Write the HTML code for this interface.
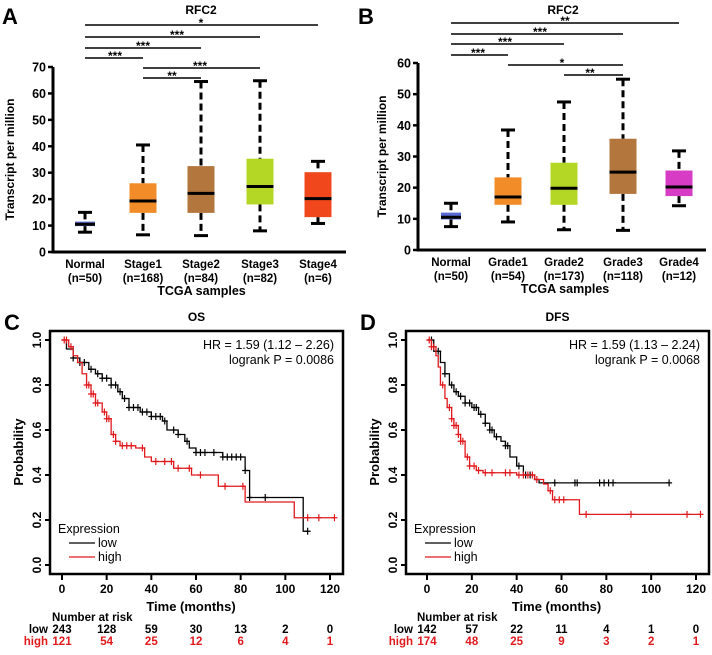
<!DOCTYPE html>
<html><head><meta charset="utf-8"><style>
body{margin:0;background:#fff;width:712px;height:650px;overflow:hidden}
svg{font-family:"Liberation Sans",Arial,sans-serif}
.b{font-weight:bold}
</style></head><body>
<svg id="s" width="712" height="650" viewBox="0 0 712 650" xmlns="http://www.w3.org/2000/svg">
<text x="2" y="24" font-size="22" class="b">A</text>
<text x="358" y="24" font-size="22" class="b">B</text>
<text x="4" y="330" font-size="22" class="b">C</text>
<text x="360" y="330" font-size="22" class="b">D</text>
</svg>
<script>
// ---- Box plot data ----
const catsA = ["Stage1","Stage2","Stage3","Stage4"];
const nA = ["(n=50)","(n=168)","(n=84)","(n=82)","(n=6)"];
const boxMinA = [7.5,6.5,6.2,8,10.8];
const boxQ1A = [9.8,14.8,14.8,18,13.2];
const boxMedA = [10.5,19.3,22.2,24.8,20.2];
const boxQ3A = [11.5,26,32.5,35.3,30.2];
const boxMaxA = [15,40.5,64.5,64.8,34.3];
const ticksA = [0,10,20,30,40,50,60,70];
const sigA = [[0,4,"*"],[0,3,"***"],[0,2,"***"],[0,1,"***"],[1,3,"***"],[1,2,"**"]];

const catsB = ["Grade1","Grade2","Grade3","Grade4"];
const nB = ["(n=50)","(n=54)","(n=173)","(n=118)","(n=12)"];
const boxMinB = [7.5,9,6.5,6.3,14.2];
const boxQ1B = [9.8,14.5,14.5,18,17.3];
const boxMedB = [10.5,17,19.8,25,20.2];
const boxQ3B = [12,23.3,28,35.7,25.5];
const boxMaxB = [15,38.5,47.5,54.8,31.8];
const ticksB = [0,10,20,30,40,50,60];
const sigB = [[0,4,"**"],[0,3,"***"],[0,2,"***"],[0,1,"***"],[1,3,"*"],[2,3,"**"]];

// ---- KM data ----
const osLowT = [0,2,5,8,12,15,18,22,25,27,30,35,40,45,47,52,55,57,60,72,82,84,108];
const osLowS = [1,0.96,0.92,0.9,0.87,0.85,0.83,0.8,0.77,0.74,0.7,0.68,0.66,0.64,0.6,0.58,0.55,0.52,0.5,0.48,0.42,0.3,0.15];
const osLowEnd = 110;
const osLowCens = [5,8,10,13,16,18,20,22,24,26,28,30,32,34,36,38,40,42,44,46,50,52,56,60,62,64,68,72,74,76,78,80,82,84,91,110];
const osHighT = [0,3,5,7,9,11,13,15,18,20,22,24,26,33,37,40,50,58,70,82,104];
const osHighS = [1,0.97,0.93,0.9,0.85,0.8,0.76,0.72,0.68,0.65,0.58,0.55,0.53,0.52,0.48,0.46,0.43,0.4,0.35,0.28,0.21];
const osHighEnd = 122;
const osHighCens = [1,2,4,11,12,13,14,15,16,19,20,21,23,24,27,29,31,36,42,46,49,52,57,62,73,81,110,115,122];

const dfsLowT = [0,3,6,8,10,12,14,17,20,23,26,28,30,33,35,37,40,43,48,50];
const dfsLowS = [1,0.95,0.9,0.85,0.8,0.77,0.75,0.72,0.7,0.67,0.63,0.6,0.57,0.55,0.53,0.48,0.44,0.4,0.38,0.365];
const dfsLowEnd = 108;
const dfsLowCens = [2,5,8,11,13,15,17,19,21,22,24,26,28,29,31,35,36,41,44,46,57,66,67,77,79,81,83,108];
const dfsHighT = [0,2,4,5,6,8,9,11,12,14,15,17,19,22,25,40,48,52,54,56,68];
const dfsHighS = [1,0.97,0.93,0.88,0.8,0.74,0.7,0.65,0.62,0.58,0.55,0.48,0.44,0.42,0.41,0.4,0.38,0.36,0.33,0.29,0.225];
const dfsHighEnd = 122;
const dfsHighCens = [1,2,3,7,10,11,12,13,14,15,16,18,19,21,23,26,29,35,37,41,43,45,47,49,55,57,59,61,71,91,116,122];

const riskTimes = [0,20,40,60,80,100,120];
const osRiskLow = [243,128,59,30,13,2,0];
const osRiskHigh = [121,54,25,12,6,4,1];
const dfsRiskLow = [142,57,22,11,4,1,0];
const dfsRiskHigh = [174,48,25,9,3,2,1];

const svg = document.getElementById('s');
const NS = "http://www.w3.org/2000/svg";
function mk(tag, attrs, txt){const e=document.createElementNS(NS,tag);for(const k in attrs)e.setAttribute(k,attrs[k]);if(txt!==undefined)e.textContent=txt;svg.appendChild(e);return e;}

function boxPanel(o){
  const y = v => o.y0 - (v/o.ymax)*(o.y0-o.y1);
  const x = i => o.xs[i];
  let e;
  e=mk('text',{x:o.tx,y:14,'font-size':12,'font-weight':'bold','text-anchor':'middle'},'RFC2');
  
  
  e=mk('line',{x1:o.ax,y1:o.y1,x2:o.ax,y2:o.y0+1.5,stroke:'#000','stroke-width':3});
  
  
  e=mk('line',{x1:o.ax-1.5,y1:o.y0,x2:o.axr,y2:o.y0,stroke:'#000','stroke-width':3});
  
  
  o.ticks.forEach(t=>{
    e=mk('line',{x1:o.ax-5,y1:y(t),x2:o.ax,y2:y(t),stroke:'#000','stroke-width':2.5});
    
    
    e=mk('text',{x:o.ax-7,y:y(t)+4.5,'font-size':12.5,'font-weight':'bold','text-anchor':'end'},String(t));
    
    
  });
  e=mk('text',{x:0,y:0,'font-size':12,'font-weight':'bold','text-anchor':'middle',transform:`translate(${o.ylx},${(o.y0+o.y1)/2}) rotate(-90)`},'Transcript per million');
  
  
  const labels=['Normal'].concat(o.cats);
  labels.forEach((c,i)=>{
    e=mk('text',{x:x(i),y:o.y0+16,'font-size':11.5,'font-weight':'bold','text-anchor':'middle'},c);
    
    
    e=mk('text',{x:x(i),y:o.y0+30,'font-size':11.5,'font-weight':'bold','text-anchor':'middle'},o.n[i]);
    
    
  });
  e=mk('text',{x:(x(0)+x(4))/2,y:o.y0+43,'font-size':12.5,'font-weight':'bold','text-anchor':'middle'},'TCGA samples');
  
  
  for(let i=0;i<5;i++){
    const w = i===0?20:27, cx=x(i);
    e=mk('line',{x1:cx,y1:y(o.max[i]),x2:cx,y2:y(o.q3[i]),stroke:'#000','stroke-width':3,'stroke-dasharray':'7,4'});
    
    
    e=mk('line',{x1:cx,y1:y(o.q1[i]),x2:cx,y2:y(o.min[i]),stroke:'#000','stroke-width':3,'stroke-dasharray':'7,4'});
    
    
    [o.max[i],o.min[i]].forEach(v=>{
      e=mk('line',{x1:cx-7,y1:y(v),x2:cx+7,y2:y(v),stroke:'#000','stroke-width':3});
      
      
    });
    e=mk('rect',{x:cx-w/2,y:y(o.q3[i]),width:w,height:y(o.q1[i])-y(o.q3[i]),fill:o.colors[i]});
    
    
    e=mk('line',{x1:cx-w/2,y1:y(o.med[i]),x2:cx+w/2,y2:y(o.med[i]),stroke:'#000','stroke-width':3});
    
    
  }
  o.sig.forEach((s,k)=>{
    const ly=o.sigY[k];
    e=mk('line',{x1:x(s[0]),y1:ly,x2:x(s[1]),y2:ly,stroke:'#000','stroke-width':1.6});
    
    
    e=mk('text',{x:o.starX[k],y:ly+2,'font-size':12,'font-weight':'bold','text-anchor':'middle'},s[2]);
    
    
  });
}

boxPanel({y0:252,y1:67,ymax:70,ax:53,axr:346,xs:[85,143,201,260,318],tx:201,ylx:14,ticks:ticksA,cats:catsA,n:nA,
  min:boxMinA,q1:boxQ1A,med:boxMedA,q3:boxQ3A,max:boxMaxA,sig:sigA,
  sigY:[25,37,48,58,68,78],starX:[201,177,143,115,200,172],
  colors:['#5a6bd6','#f28c28','#b3763c','#b4d624','#f0481c']});
boxPanel({y0:250,y1:63,ymax:60,ax:418,axr:706,xs:[451,508,564,623,679],tx:563,ylx:386,ticks:ticksB,cats:catsB,n:nB,
  min:boxMinB,q1:boxQ1B,med:boxMedB,q3:boxQ3B,max:boxMaxB,sig:sigB,
  sigY:[23,34,44,55,65,75],starX:[565,540,505,478,562,590],
  colors:['#5a6bd6','#f28c28','#b4d624','#b3763c','#d63cc4']});

function kmPanel(o){
  const X = t => o.x0 + t*(o.x120-o.x0)/120;
  const Y = p => 565 - p*225;
  let e;
  e=mk('text',{x:(o.fl+o.fr)/2,y:321,'font-size':12,'font-weight':'bold','text-anchor':'middle'},o.title);
  
  
  e=mk('rect',{x:o.fl,y:331,width:o.fr-o.fl,height:243,fill:'none',stroke:'#000','stroke-width':2.5});
  
  
  [0,0.2,0.4,0.6,0.8,1].forEach(p=>{
    e=mk('line',{x1:o.fl-5,y1:Y(p),x2:o.fl,y2:Y(p),stroke:'#000','stroke-width':2});
    
    
    e=mk('text',{x:0,y:0,'font-size':12,'font-weight':'bold','text-anchor':'middle',transform:`translate(${o.fl-9},${Y(p)}) rotate(-90)`},p.toFixed(1));
    
    
  });
  e=mk('text',{x:0,y:0,'font-size':13,'font-weight':'bold','text-anchor':'middle',transform:`translate(${o.fl-27},452) rotate(-90)`},'Probability');
  
  
  riskTimes.forEach(t=>{
    e=mk('line',{x1:X(t),y1:574,x2:X(t),y2:580,stroke:'#000','stroke-width':2});
    
    
    e=mk('text',{x:X(t),y:593,'font-size':12,'font-weight':'bold','text-anchor':'middle'},String(t));
    
    
  });
  e=mk('text',{x:X(60)-5,y:611,'font-size':13,'font-weight':'bold','text-anchor':'middle'},'Time (months)');
  
  
  const curve=(T,S,end,cens,col,name)=>{
    let d=`M${X(T[0])},${Y(S[0])}`;
    for(let i=1;i<T.length;i++){d+=`H${X(T[i])}V${Y(S[i])}`;}
    d+=`H${X(end)}`;
    e=mk('path',{d:d,fill:'none',stroke:col,'stroke-width':1.3});
    
    
    cens.forEach(c=>{
      let s=S[0];for(let i=0;i<T.length;i++){if(T[i]<=c)s=S[i];}
      e=mk('path',{d:`M${X(c)-3},${Y(s)}h6M${X(c)},${Y(s)-3.5}v7`,stroke:col,'stroke-width':1.2});
      
      
    });
  };
  curve(o.lowT,o.lowS,o.lowEnd,o.lowC,'#000','survival-curve-low');
  curve(o.highT,o.highS,o.highEnd,o.highC,'#e0191d','survival-curve-high');
  e=mk('text',{x:o.fr-9,y:349,'font-size':12.5,'text-anchor':'end'},o.hr);
  
  
  e=mk('text',{x:o.fr-9,y:364,'font-size':12.5,'text-anchor':'end'},o.p);
  
  
  e=mk('text',{x:o.fl+8,y:533,'font-size':12.5},'Expression');
  
  
  [['low','#000',547],['high','#e0191d',561]].forEach(l=>{
    e=mk('line',{x1:o.fl+19,y1:l[2]-4,x2:o.fl+45,y2:l[2]-4,stroke:l[1],'stroke-width':1.3});
    
    
    e=mk('text',{x:o.fl+48,y:l[2],'font-size':12.5},l[0]);
    
    
  });
  e=mk('text',{x:X(0)-10,y:621,'font-size':11.5,'font-weight':'bold'},'Number at risk');
  
  
  e=mk('text',{x:X(0)-14,y:633,'font-size':11.5,'font-weight':'bold','text-anchor':'end'},'low');
  
  
  e=mk('text',{x:X(0)-14,y:645,'font-size':11.5,'font-weight':'bold','text-anchor':'end',fill:'#e0191d'},'high');
  
  
  riskTimes.forEach((t,i)=>{
    e=mk('text',{x:X(t),y:633,'font-size':11.5,'font-weight':'bold','text-anchor':'middle'},String(o.rl[i]));
    
    
    e=mk('text',{x:X(t),y:645,'font-size':11.5,'font-weight':'bold','text-anchor':'middle',fill:'#e0191d'},String(o.rh[i]));
    
    
  });
}
kmPanel({title:'OS',fl:50,fr:343,x0:62,x120:330,hr:'HR = 1.59 (1.12 \u2013 2.26)',p:'logrank P = 0.0086',
  lowT:osLowT,lowS:osLowS,lowEnd:osLowEnd,lowC:osLowCens,highT:osHighT,highS:osHighS,highEnd:osHighEnd,highC:osHighCens,
  rl:osRiskLow,rh:osRiskHigh});
kmPanel({title:'DFS',fl:406,fr:709,x0:427,x120:696,hr:'HR = 1.59 (1.13 \u2013 2.24)',p:'logrank P = 0.0068',
  lowT:dfsLowT,lowS:dfsLowS,lowEnd:dfsLowEnd,lowC:dfsLowCens,highT:dfsHighT,highS:dfsHighS,highEnd:dfsHighEnd,highC:dfsHighCens,
  rl:dfsRiskLow,rh:dfsRiskHigh});
</script>
</body></html>
